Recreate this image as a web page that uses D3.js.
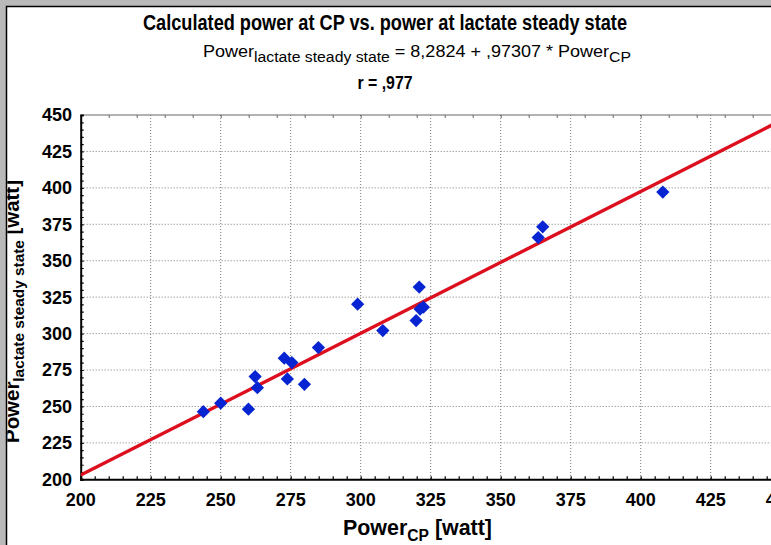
<!DOCTYPE html>
<html>
<head>
<meta charset="utf-8">
<script src="https://cdn.jsdelivr.net/npm/d3@7"></script>
<style>
  body { margin: 0; background: #b9b9b9; overflow: hidden; }
  svg { display: block; font-family: "Liberation Sans", Arial, sans-serif; }
</style>
</head>
<body>
<script>
// data
const xTicks = [200, 225, 250, 275, 300, 325, 350, 375, 400, 425, 450]
const yTicks = [200, 225, 250, 275, 300, 325, 350, 375, 400, 425, 450]
const powerCP = [243.8, 250.0, 259.9, 262.3, 263.1, 272.7, 275.4, 273.8, 279.9, 284.9,
                 298.9, 307.9, 319.8, 320.9, 321.2, 322.4, 363.4, 365.0, 407.9]
const powerLSS = [246.4, 252.2, 248.1, 270.5, 262.9, 283.1, 280.1, 268.9, 265.2, 290.4,
                  320.2, 302.1, 308.9, 331.9, 316.8, 318.1, 365.9, 373.3, 397.1]
const intercept = 8.2824
const slope = 0.97307
const titleText = "Calculated power at CP vs. power at lactate steady state"
const rText = "r = ,977"

const W = 771, H = 545
const svg = d3.select("body").append("svg").attr("width", W).attr("height", H)

// white panel with black left/top edge
svg.append("clipPath").attr("id", "panel")
  .append("rect").attr("x", 7.3).attr("y", 7.3).attr("width", W).attr("height", H)
svg.append("rect")
  .attr("x", 6.5).attr("y", 6.5).attr("width", W + 10).attr("height", H + 10)
  .attr("fill", "#fff").attr("stroke", "#000").attr("stroke-width", 1.5)

const root = svg.append("g").attr("clip-path", "url(#panel)")

let x = d3.scaleLinear().domain([200, 450]).range([80.7, 780.7])
let y = d3.scaleLinear().domain([200, 450]).range([479.3, 115])

// grid
const grid = root.append("g").attr("stroke", "#7a7a7a").attr("stroke-width", 1)
  .attr("stroke-dasharray", "1,2")
grid.selectAll(".vg").data(xTicks.slice(1)).join("line")
  .attr("x1", d => x(d)).attr("x2", d => x(d)).attr("y1", y(450)).attr("y2", y(200))
grid.selectAll(".hg").data(yTicks.slice(1, -1)).join("line")
  .attr("y1", d => y(d)).attr("y2", d => y(d)).attr("x1", x(200)).attr("x2", W + 10)

// top frame line with small ticks
root.append("line").attr("x1", x(200)).attr("x2", W + 10).attr("y1", y(450)).attr("y2", y(450))
  .attr("stroke", "#666").attr("stroke-width", 1)
root.append("g").attr("transform", "translate(0," + y(450) + ")")
  .call(d3.axisTop(x).tickValues(d3.range(200, 461, 10)).tickSize(-3).tickFormat(""))
  .call(g => g.select(".domain").remove())
  .selectAll("line").attr("stroke", "#666")

// bottom axis
const xa = root.append("g").attr("transform", "translate(0," + y(200) + ")")
xa.call(d3.axisBottom(x).tickValues(d3.range(200, 461, 5)).tickSize(-3).tickFormat(""))
xa.select(".domain").attr("stroke-width", 2)
xa.selectAll(".tick line").attr("stroke-width", 1.2)
root.append("g").selectAll("text").data(xTicks).join("text")
  .attr("x", d => x(d)).attr("y", 506)
  .attr("text-anchor", "middle").attr("font-weight", "bold").attr("font-size", 18)
  .text(d => d)

// left axis
const ya = root.append("g").attr("transform", "translate(" + x(200) + ",0)")
ya.call(d3.axisLeft(y).tickValues(d3.range(200, 451, 5)).tickSize(-3).tickFormat(""))
ya.select(".domain").attr("stroke-width", 2)
ya.selectAll(".tick line").attr("stroke-width", 1.2)
root.append("g").selectAll("text").data(yTicks).join("text")
  .attr("x", 72).attr("y", d => y(d)).attr("dy", "0.36em")
  .attr("text-anchor", "end").attr("font-weight", "bold").attr("font-size", 18)
  .text(d => d)

// plot area
const plot = root.append("g")
plot.append("clipPath").attr("id", "plotclip")
  .append("rect").attr("x", x(200)).attr("y", y(450)).attr("width", W).attr("height", y(200) - y(450))

plot.append("path")
  .datum([200, 470])
  .attr("clip-path", "url(#plotclip)")
  .attr("fill", "none").attr("stroke", "#dd0f1e").attr("stroke-width", 3.4)
  .attr("d", d3.line().x(d => x(d)).y(d => y(intercept + slope * d)))

const diamond = d3.symbol().type(d3.symbolSquare).size(88)
plot.selectAll(".pt").data(powerCP).join("path")
  .attr("transform", (d, i) => "translate(" + x(d) + "," + y(powerLSS[i]) + ") rotate(45)")
  .attr("d", diamond)
  .attr("fill", "#0624d2")

// titles
root.append("text").attr("x", 385).attr("y", 30)
  .attr("text-anchor", "middle").attr("font-weight", "bold").attr("font-size", 22)
  .attr("textLength", 484).attr("lengthAdjust", "spacingAndGlyphs")
  .text(titleText)

const sub = root.append("text").attr("x", 203).attr("y", 57).attr("font-size", 16)
  .attr("textLength", 428).attr("lengthAdjust", "spacingAndGlyphs")
sub.append("tspan").text("Power")
sub.append("tspan").attr("font-size", 14).attr("dy", 5).text("lactate steady state")
sub.append("tspan").attr("dy", -5).text(" = 8,2824 + ,97307 * Power")
sub.append("tspan").attr("font-size", 14).attr("dy", 5).text("CP")

root.append("text").attr("x", 385).attr("y", 89)
  .attr("text-anchor", "middle").attr("font-weight", "bold").attr("font-size", 19)
  .attr("textLength", 55).attr("lengthAdjust", "spacingAndGlyphs")
  .text(rText)

const xt = root.append("text").attr("x", 343).attr("y", 535)
  .attr("font-weight", "bold").attr("font-size", 22)
  .attr("textLength", 149).attr("lengthAdjust", "spacingAndGlyphs")
xt.append("tspan").text("Power")
xt.append("tspan").attr("font-size", 16).attr("dy", 6).text("CP")
xt.append("tspan").attr("dy", -6).text(" [watt]")

const yt = root.append("text")
  .attr("transform", "translate(19,443) rotate(-90)")
  .attr("font-weight", "bold").attr("font-size", 20)
  .attr("textLength", 263).attr("lengthAdjust", "spacingAndGlyphs")
yt.append("tspan").text("Power")
yt.append("tspan").attr("font-size", 15).attr("dy", 5).text("lactate steady state")
yt.append("tspan").attr("dy", -5).text(" [watt]")
</script>
</body>
</html>
